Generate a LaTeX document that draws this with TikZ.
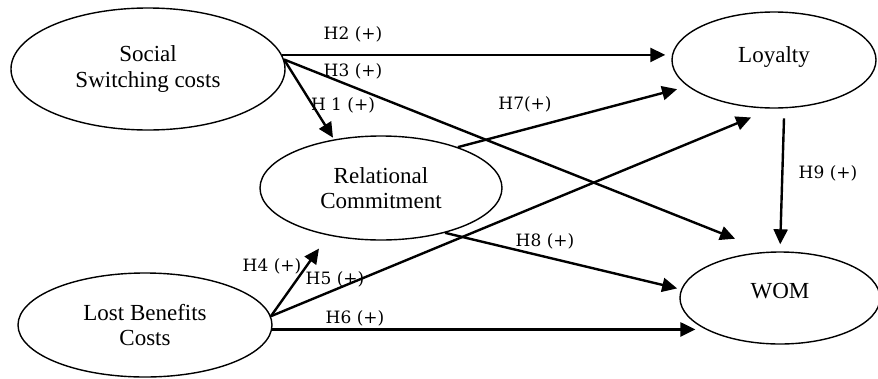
\documentclass[tikz,border=0pt]{standalone}
\usepackage{fontspec}
\setmainfont{Liberation Serif}
\newfontfamily\labfont{DejaVu Serif}
\usetikzlibrary{arrows.meta,shapes.geometric}
\begin{document}
\begin{tikzpicture}[x=1pt,y=-1pt,
  construct/.style={draw, ellipse, line width=1.4pt, inner sep=0pt, align=center,
    font=\fontsize{23}{25}\selectfont},
  link/.style={line width=2.4pt, -{Triangle[length=15pt,width=14pt]}},
  hyp/.style={font=\labfont\fontsize{17}{20}\selectfont, inner sep=0pt}]
\useasboundingbox (0,0) rectangle (878,378);
% constructs
\node[construct, minimum width=274pt, minimum height=122pt] (soc) at (148,69) {Social\\Switching costs};
\node[construct, minimum width=204pt, minimum height=96pt, text height=15.7pt, text depth=11.7pt] (loy) at (774,60) {Loyalty};
\node[construct, minimum width=242pt, minimum height=104pt] (rel) at (381,188) {Relational\\Commitment};
\node[construct, minimum width=254pt, minimum height=104pt] (lost) at (145,325) {Lost Benefits\\Costs};
\node[construct, minimum width=200pt, minimum height=92pt, text height=15.5pt, text depth=14pt] (wom) at (780,298) {WOM};
% connectors
\draw[link, shorten >=6pt] (soc.6) -- (soc.6 -| loy.west);
\draw[link, shorten >=35pt] (soc.4) -- (wom.105);
\draw[link, shorten >=2pt] (soc.4) -- (rel.134);
\draw[link, shorten >=16pt] (lost.4) -- (rel.222);
\draw[link, shorten >=23pt] (lost.4) -- (loy.268);
\draw[link, shorten >=7pt] (lost.-2) -- (lost.-2 -| wom.201.5);
\draw[link, shorten >=11pt] (rel.28) -- (loy.197);
\draw[link, shorten >=4pt] (rel.-35) -- (wom.175);
\draw[link, shorten <=10pt, shorten >=7pt] (loy.-78) -- (wom.north);
% labels
\node[hyp] (h2) at (353,34) {H2 (+)};
\node[hyp] (h3) at (353,71) {H3 (+)};
\node[hyp] (h1) at (343,105) {H 1 (+)};
\node[hyp] (h7) at (525,104) {H7(+)};
\node[hyp] (h9) at (828,173) {H9 (+)};
\node[hyp] (h4) at (272,266) {H4 (+)};
\node[hyp] (h5) at (335,279) {H5 (+)};
\node[hyp] (h6) at (355,318) {H6 (+)};
\node[hyp] (h8) at (545,241) {H8 (+)};
\end{tikzpicture}
\end{document}
